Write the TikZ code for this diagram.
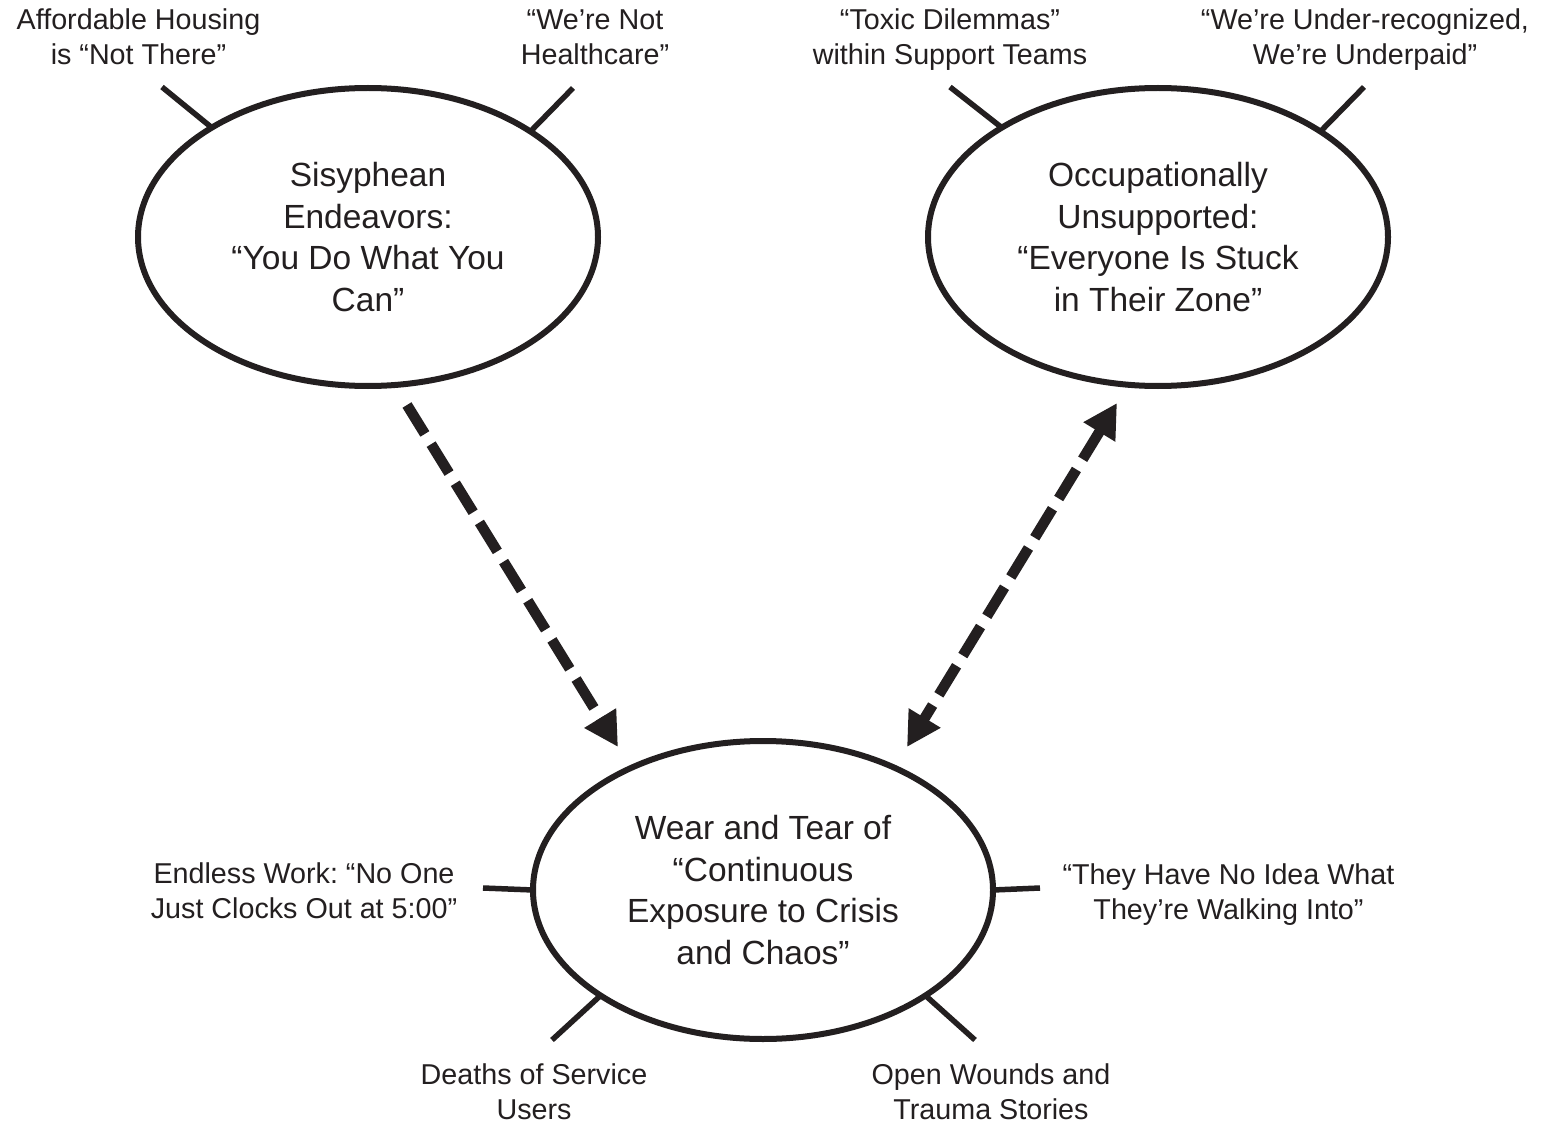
\documentclass[tikz,border=0pt]{standalone}
\usepackage{fontspec}
\setmainfont{Liberation Sans}
\usetikzlibrary{shapes.geometric,arrows.meta}
\definecolor{ink}{HTML}{231F20}
\frenchspacing
\begin{document}
\begin{tikzpicture}[x=1pt,y=-1pt,
  theme/.style={ellipse, draw=ink, line width=6pt, minimum width=460pt,
    minimum height=298pt, inner sep=0pt, outer sep=0pt, align=center,
    text=ink, font=\fontsize{33.5}{41.5}\selectfont},
  note/.style={align=center, text=ink, inner sep=0pt,
    font=\fontsize{28.7}{35}\selectfont},
  spoke/.style={draw=ink, line width=5.5pt},
  flow/.style={draw=ink, line width=10.5pt, dash pattern=on 34pt off 12pt},
  head/.tip={Triangle[length=34pt,width=35pt]}]

\useasboundingbox[fill=white] (0,0) rectangle (1547,1123);

% the three themes
\node[theme] (e1) at (368,237) {Sisyphean\\Endeavors:\\“You Do What You\\Can”};
\node[theme] (e2) at (1158,237) {Occupationally\\Unsupported:\\“Everyone Is Stuck\\in Their Zone”};
\node[theme] (e3) at (763,890) {Wear and Tear of\\“Continuous\\Exposure to Crisis\\and Chaos”};

% subthemes
\node[note] (l1) at (138.5,37) {Affordable Housing\\is “Not There”};
\node[note] (l2) at (595,37) {“We’re Not\\Healthcare”};
\node[note] (l3) at (950,40) {“Toxic Dilemmas”\\within Support Teams};
\node[note] (l4) at (1365,40) {“We’re Under-recognized,\\We’re Underpaid”};
\node[note] (l5) at (304,891) {Endless Work: “No One\\Just Clocks Out at 5:00”};
\node[note] (l6) at (1228.5,895) {“They Have No Idea What\\They’re Walking Into”};
\node[note] (l7) at (534,1092) {Deaths of Service\\Users};
\node[note] (l8) at (991,1092) {Open Wounds and\\Trauma Stories};

% outer ends of the spokes
\coordinate (s1) at (162,87);
\coordinate (s2) at (573,88);
\coordinate (s3) at (950,87);
\coordinate (s4) at (1364,87);
\coordinate (s5) at (483,888);
\coordinate (s6) at (1040,888);
\coordinate (s7) at (552,1040);
\coordinate (s8) at (975,1040);

\draw[spoke] (e1.145.9) -- (s1);
\draw[spoke] (e1.33.4) -- (s2);
\draw[spoke] (e2.145.9) -- (s3);
\draw[spoke] (e2.33.9) -- (s4);
\draw[spoke] (e3.180) -- (s5);
\draw[spoke] (e3.0) -- (s6);
\draw[spoke] (e3.213.3) -- (s7);
\draw[spoke] (e3.327) -- (s8);

% dashed links between the themes
\coordinate (a1) at (407,405);
\coordinate (a2) at (618,747);
\coordinate (b1) at (1117,403);
\coordinate (b2) at (907,747);

\draw[flow, -head] (a1) -- (a2);
\draw[flow, head-head] (b1) -- (b2);
\end{tikzpicture}
\end{document}
